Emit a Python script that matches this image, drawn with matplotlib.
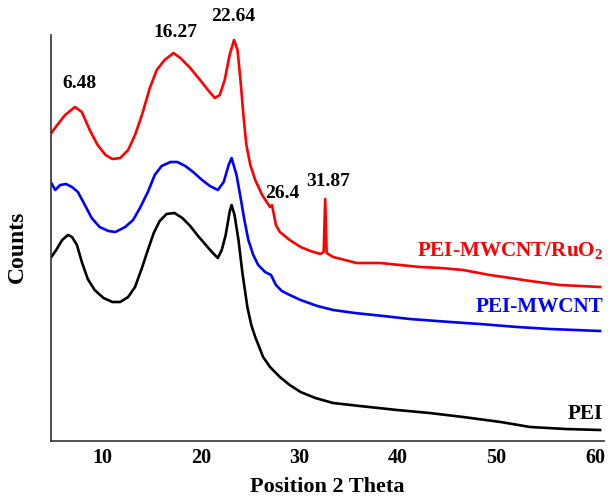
import matplotlib
matplotlib.use("Agg")
import matplotlib.pyplot as plt

plt.rcParams['font.family'] = ['Liberation Serif', 'DejaVu Serif']
plt.rcParams['font.weight'] = 'bold'
plt.rcParams['mathtext.fontset'] = 'custom'
plt.rcParams['mathtext.rm'] = 'Liberation Serif:bold'
plt.rcParams['mathtext.bf'] = 'Liberation Serif:bold'
plt.rcParams['mathtext.default'] = 'bf'

# ---- data (2 theta, counts, arbitrary offset units) ----
ru_x = [4.8, 5.4, 6.2, 7.2, 7.9, 8.7, 9.5, 10.3, 11.0, 11.8, 12.6, 13.3, 14.0, 14.8,
        15.5, 16.3, 17.2, 17.9, 18.9, 19.9, 20.7, 21.4, 21.9, 22.4, 22.9, 23.35, 23.7,
        24.0, 24.3, 24.6, 25.0, 25.5, 26.2, 27.0, 27.2, 27.6, 28.0, 29.0, 30.1, 31.1,
        32.1, 32.45, 32.6, 32.75, 33.4, 34.6, 35.8, 38.2, 40.2, 42.2, 44.3, 46.6, 49.3,
        51.4, 53.4, 56.4, 58.5, 60.5]
ru_y = [308, 316, 326, 334, 329, 311, 296, 286, 282, 283, 291, 306, 326, 353,
        371, 381, 388, 383, 373, 361, 351, 343, 346, 361, 386, 401, 391,
        361, 326, 296, 276, 261, 246, 234, 236, 216, 209, 201, 194, 190,
        187, 189, 242, 188, 184, 181, 178, 178, 176, 174, 173, 171, 166,
        163, 160, 156, 155, 154]

cnt_x = [4.8, 5.2, 5.7, 6.3, 6.9, 7.5, 8.1, 8.9, 9.7, 10.6, 11.3, 12.3, 13.1, 13.8,
         14.6, 15.3, 16.0, 16.9, 17.6, 18.4, 19.2, 20.1, 20.9, 21.7, 22.3, 22.8, 23.1,
         23.6, 24.0, 24.4, 24.8, 25.3, 25.8, 26.5, 27.1, 27.6, 28.2, 29.0, 30.1, 31.8,
         33.4, 35.6, 38.5, 41.2, 45.3, 48.3, 52.1, 55.4, 58.0, 60.5]
cnt_y = [258, 251, 256, 257, 254, 249, 238, 223, 214, 210, 209, 214, 221, 233,
         249, 266, 275, 279, 279, 275, 269, 261, 255, 251, 259, 276, 283,
         266, 244, 221, 201, 186, 176, 169, 166, 156, 150, 146, 141, 135,
         131, 128, 125, 122, 119, 117, 114, 112, 111, 110]

pei_x = [4.8, 5.3, 5.9, 6.5, 6.9, 7.4, 7.9, 8.5, 9.2, 10.1, 11.0, 11.8, 12.6, 13.3,
         14.0, 14.6, 15.2, 15.8, 16.5, 17.3, 18.1, 18.9, 19.7, 20.4, 21.1, 21.7, 22.1,
         22.5, 22.9, 23.1, 23.4, 23.8, 24.2, 24.7, 25.1, 25.5, 26.3, 27.0, 28.0, 29.0,
         30.1, 31.6, 33.4, 36.1, 39.9, 43.2, 46.6, 50.4, 53.4, 57.0, 60.5]
pei_y = [184, 191, 201, 206, 204, 196, 179, 162, 151, 143, 139, 139, 144, 154,
         173, 191, 208, 220, 227, 228, 223, 215, 205, 197, 189, 183, 191,
         206, 229, 236, 226, 201, 168, 134, 116, 104, 84, 74, 64, 56,
         49, 43, 38, 35, 31, 28, 24, 19, 14, 12, 11]

peak_labels = ["6.48", "16.27", "22.64", "26.4", "31.87"]
peak_lx = [7.7, 17.4, 23.25, 28.2, 32.9]
peak_ly = [358, 408, 424, 248, 259]

series_names = ["PEI-MWCNT/RuO$_2$", "PEI-MWCNT", "PEI"]
series_colors = ["#ff0000", "#0000ff", "#000000"]
name_y = [185, 129, 22]

xticks = [10, 20, 30, 40, 50, 60]

fig = plt.figure(figsize=(6.08, 4.98), dpi=100)
ax = fig.add_axes([51/608, 57/498, 553/608, 406/498])

ax.plot(ru_x, ru_y, color=series_colors[0], lw=1.9)
ax.plot(cnt_x, cnt_y, color=series_colors[1], lw=1.9)
ax.plot(pei_x, pei_y, color=series_colors[2], lw=1.9)

for t, x, y in zip(peak_labels, peak_lx, peak_ly):
    ax.text(x, y, t, ha='center', va='center', fontsize=14, fontweight='bold',
            color='black', clip_on=False)

for t, c, y in zip(series_names, series_colors, name_y):
    ax.text(60.8, y, t, ha='right', va='baseline', fontsize=15.2, fontweight='bold',
            color=c, clip_on=False)

ax.set_xlim(4.77, 60.9)
ax.set_ylim(0, 406)
ax.set_xticks(xticks)
ax.set_xticklabels([str(v) for v in xticks])
ax.set_yticks([])
ax.tick_params(axis='x', length=0, pad=5, labelsize=14.5)
for lab in ax.get_xticklabels():
    lab.set_fontweight('bold')
ax.spines['top'].set_visible(False)
ax.spines['right'].set_visible(False)
ax.spines['left'].set_color('#333333')
ax.spines['bottom'].set_color('#333333')
ax.spines['left'].set_linewidth(1.2)
ax.spines['bottom'].set_linewidth(1.2)

fig.text(327/608, 1 - 487/498, "Position 2 Theta", ha='center', va='center',
         fontsize=16, fontweight='bold')
fig.text(17/608, 1 - 247/498, "Counts", ha='center', va='center', rotation=90,
         fontsize=17, fontweight='bold')

fig.savefig("out.png", dpi=100)
